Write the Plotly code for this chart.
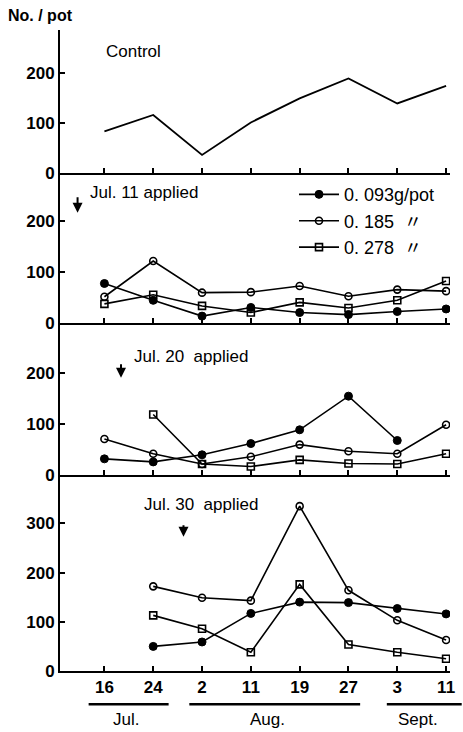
import plotly.graph_objects as go

# ---- data ----
date_labels = ["16", "24", "2", "11", "19", "27", "3", "11"]
x_idx = list(range(len(date_labels)))

control = [83, 116, 36, 101, 149, 189, 139, 174]

jul11_093 = [77, 44, 13, 30, 20, 16, 22, 27]
jul11_185 = [51, 121, 59, 60, 72, 52, 65, 62]
jul11_278 = [37, 55, 33, 20, 40, 29, 44, 82]

jul20_093 = [31, 25, 39, 61, 88, 154, 67, None]
jul20_185 = [70, 41, 21, 35, 59, 46, 41, 98]
jul20_278 = [None, 118, 21, 16, 29, 22, 21, 41]

jul30_093 = [None, 50, 59, 117, 140, 139, 127, 116]
jul30_185 = [None, 172, 149, 143, 335, 164, 103, 63]
jul30_278 = [None, 113, 86, 38, 176, 54, 38, 25]

series_names = ["0. 093g/pot", "0. 185  〃", "0. 278  〃"]
month_labels = ["Jul.", "Aug.", "Sept."]

# ---- styling ----
FONT = "Liberation Sans, Arial, Noto Sans CJK JP, sans-serif"
BLACK = "black"
marker_styles = [
    dict(symbol="circle", size=8, color=BLACK, line=dict(color=BLACK, width=1)),
    dict(symbol="circle-open", size=7, color=BLACK, line=dict(color=BLACK, width=1.6)),
    dict(symbol="square-open", size=7, color=BLACK, line=dict(color=BLACK, width=1.6)),
]

fig = go.Figure()

fig.add_trace(go.Scatter(x=x_idx, y=control, mode="lines",
                         line=dict(color=BLACK, width=1.8),
                         showlegend=False, xaxis="x", yaxis="y"))

panels = [
    (2, [jul11_093, jul11_185, jul11_278], True),
    (3, [jul20_093, jul20_185, jul20_278], False),
    (4, [jul30_093, jul30_185, jul30_278], False),
]
for n, sets, legend in panels:
    for i, vals in enumerate(sets):
        fig.add_trace(go.Scatter(
            x=x_idx, y=vals, mode="lines+markers", name=series_names[i],
            line=dict(color=BLACK, width=1.6),
            marker=marker_styles[i], showlegend=legend,
            xaxis=f"x{n}", yaxis=f"y{n}"))

# layout geometry
domains = {1: [0.7771, 1.0], 2: [0.5433, 0.7771], 3: [0.3063, 0.5433], 4: [0.0, 0.3063]}
yranges = {1: [0, 286], 2: [0, 294], 3: [0, 298], 4: [0, 399]}
ytickvals = {1: [0, 100, 200], 2: [0, 100, 200], 3: [0, 100, 200], 4: [0, 100, 200, 300]}
xrange_ = [-0.91, 7.08]

layout = dict(
    width=463, height=732,
    margin=dict(l=60, r=8, t=30, b=60.5),
    paper_bgcolor="white", plot_bgcolor="white",
    font=dict(family=FONT, color=BLACK),
    legend=dict(x=0.6, y=0.772, xanchor="left", yanchor="top",
                bgcolor="rgba(0,0,0,0)", font=dict(size=18, family=FONT),
                tracegroupgap=0, itemwidth=40),
)
for n in range(1, 5):
    xk = "xaxis" if n == 1 else f"xaxis{n}"
    yk = "yaxis" if n == 1 else f"yaxis{n}"
    layout[xk] = dict(
        range=xrange_, tickvals=x_idx, ticktext=date_labels,
        showticklabels=(n == 4), ticks="inside", ticklen=5, tickwidth=2,
        tickcolor=BLACK, showline=True, linecolor=BLACK, linewidth=2,
        showgrid=False, zeroline=False,
        anchor="y" if n == 1 else f"y{n}",
        tickfont=dict(size=17, family=FONT, weight="bold"),
    )
    if n != 1:
        layout[xk]["matches"] = "x"
    layout[yk] = dict(
        domain=domains[n], range=yranges[n], tickvals=ytickvals[n],
        ticks="inside", ticklen=5, tickwidth=2, tickcolor=BLACK,
        showline=True, linecolor=BLACK, linewidth=2,
        showgrid=False, zeroline=False,
        anchor="x" if n == 1 else f"x{n}",
        tickfont=dict(size=17, family=FONT, weight="bold"),
    )
fig.update_layout(**layout)

ann = []
ann.append(dict(text="<b>No. / pot</b>", xref="paper", yref="paper", x=-0.139, y=1.0234,
                xanchor="left", yanchor="middle", showarrow=False, font=dict(size=16)))
ann.append(dict(text="Control", xref="x", yref="y", x=0, y=242,
                xanchor="left", yanchor="middle", showarrow=False, font=dict(size=17)))
ann.append(dict(text="Jul. 11 applied", xref="x2", yref="y2", x=-0.34, y=255,
                xanchor="left", yanchor="middle", showarrow=False, font=dict(size=17)))
ann.append(dict(text="Jul. 20  applied", xref="x3", yref="y3", x=0.57, y=231,
                xanchor="left", yanchor="middle", showarrow=False, font=dict(size=17)))
ann.append(dict(text="Jul. 30  applied", xref="x4", yref="y4", x=0.77, y=338,
                xanchor="left", yanchor="middle", showarrow=False, font=dict(size=17)))
# arrows
for xr, yr, xv, yv, length in [("x2", "y2", -0.55, 216, 17), ("x3", "y3", 0.34, 190, 15), ("x4", "y4", 1.62, 273, 13)]:
    ann.append(dict(text="", xref=xr, yref=yr, x=xv, y=yv, ax=0, ay=-length,
                    showarrow=True, arrowhead=2, arrowsize=1, arrowwidth=2, arrowcolor=BLACK))
# month labels
for lab, xv in zip(month_labels, [0.44, 3.34, 6.43]):
    ann.append(dict(text=lab, xref="x4", yref="paper", x=xv, y=-0.0756,
                    xanchor="center", yanchor="middle", showarrow=False, font=dict(size=17)))
fig.update_layout(annotations=ann)

shapes = []
for x0, x1 in [(0.0734, 0.2785), (0.3316, 0.7696), (0.838, 1.03)]:
    shapes.append(dict(type="line", xref="paper", yref="paper", x0=x0, x1=x1, y0=-0.052, y1=-0.052,
                       line=dict(color=BLACK, width=2.5)))
fig.update_layout(shapes=shapes)

fig.write_html("out.html", config={"displayModeBar": False},
               post_script="document.body.style.margin='0';")
